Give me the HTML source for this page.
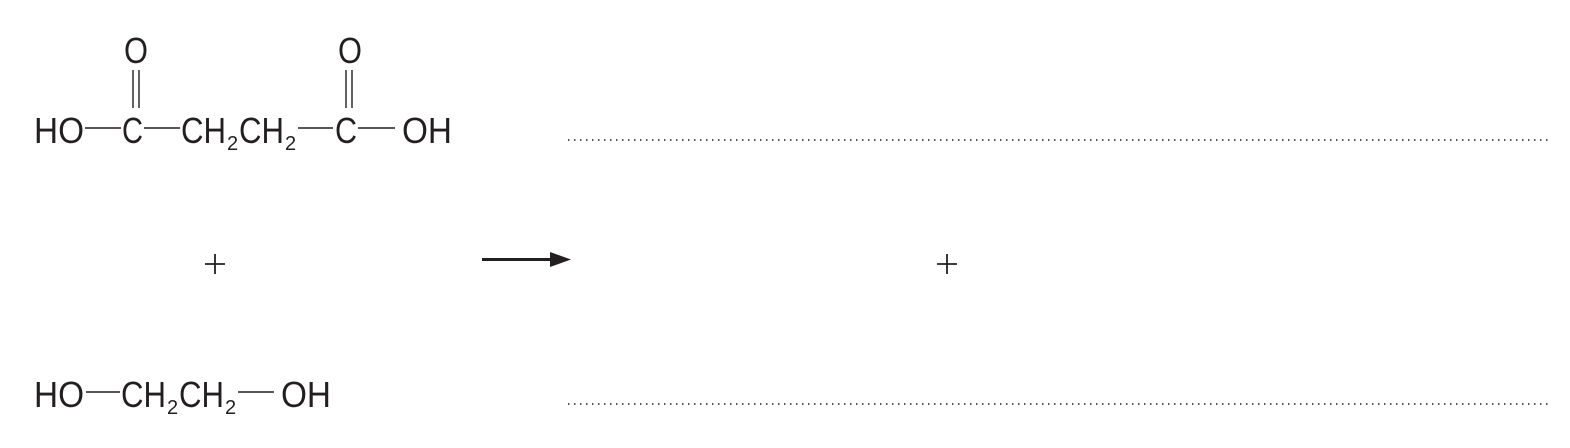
<!DOCTYPE html>
<html><head><meta charset="utf-8"><style>
html,body{margin:0;padding:0;background:#fff;}
svg{display:block;}
text{font-family:"Liberation Sans",sans-serif;fill:#231f20;}
</style></head><body>
<svg width="1570" height="448" viewBox="0 0 1570 448" xmlns="http://www.w3.org/2000/svg">
<g stroke="#231f20" stroke-width="1.4" fill="none">
<line x1="85" y1="128" x2="121" y2="128"/>
<line x1="144" y1="128" x2="180" y2="128"/>
<line x1="298" y1="128" x2="333" y2="128"/>
<line x1="358" y1="128" x2="395" y2="128"/>
<line x1="133" y1="70" x2="133" y2="108"/>
<line x1="139" y1="70" x2="139" y2="108"/>
<line x1="346" y1="70" x2="346" y2="108"/>
<line x1="352" y1="70" x2="352" y2="108"/>
<line x1="86" y1="392" x2="120" y2="392"/>
<line x1="238" y1="392" x2="274" y2="392"/>
</g>
<g stroke="#231f20" stroke-width="1.8" fill="none">
<line x1="205" y1="264" x2="225" y2="264"/>
<line x1="215" y1="254" x2="215" y2="274"/>
<line x1="937" y1="264" x2="957" y2="264"/>
<line x1="947" y1="254" x2="947" y2="274"/>
</g>
<line x1="482" y1="259.5" x2="552" y2="259.5" stroke="#231f20" stroke-width="3"/>
<polygon points="550,252 571,259.5 550,267" fill="#231f20"/>
<g stroke="#231f20" stroke-width="1.5" stroke-dasharray="1.5 4.5">
<line x1="568" y1="140" x2="1552" y2="140"/>
<line x1="568" y1="404" x2="1552" y2="404"/>
</g>
<g font-size="36">
<text x="124" y="63" textLength="24" lengthAdjust="spacingAndGlyphs">O</text>
<text x="338" y="63" textLength="24" lengthAdjust="spacingAndGlyphs">O</text>
<text x="34" y="143" textLength="50" lengthAdjust="spacingAndGlyphs">HO</text>
<text x="122" y="143" textLength="21" lengthAdjust="spacingAndGlyphs">C</text>
<text x="181" y="143" textLength="45" lengthAdjust="spacingAndGlyphs">CH</text>
<text x="227" y="150" font-size="20">2</text>
<text x="239" y="143" textLength="45" lengthAdjust="spacingAndGlyphs">CH</text>
<text x="285" y="150" font-size="20">2</text>
<text x="335" y="143" textLength="22" lengthAdjust="spacingAndGlyphs">C</text>
<text x="402" y="143" textLength="50" lengthAdjust="spacingAndGlyphs">OH</text>
<text x="34" y="407" textLength="50" lengthAdjust="spacingAndGlyphs">HO</text>
<text x="121" y="407" textLength="45" lengthAdjust="spacingAndGlyphs">CH</text>
<text x="167" y="414" font-size="20">2</text>
<text x="179" y="407" textLength="45" lengthAdjust="spacingAndGlyphs">CH</text>
<text x="225" y="414" font-size="20">2</text>
<text x="281" y="407" textLength="50" lengthAdjust="spacingAndGlyphs">OH</text>
</g>
</svg>
</body></html>
